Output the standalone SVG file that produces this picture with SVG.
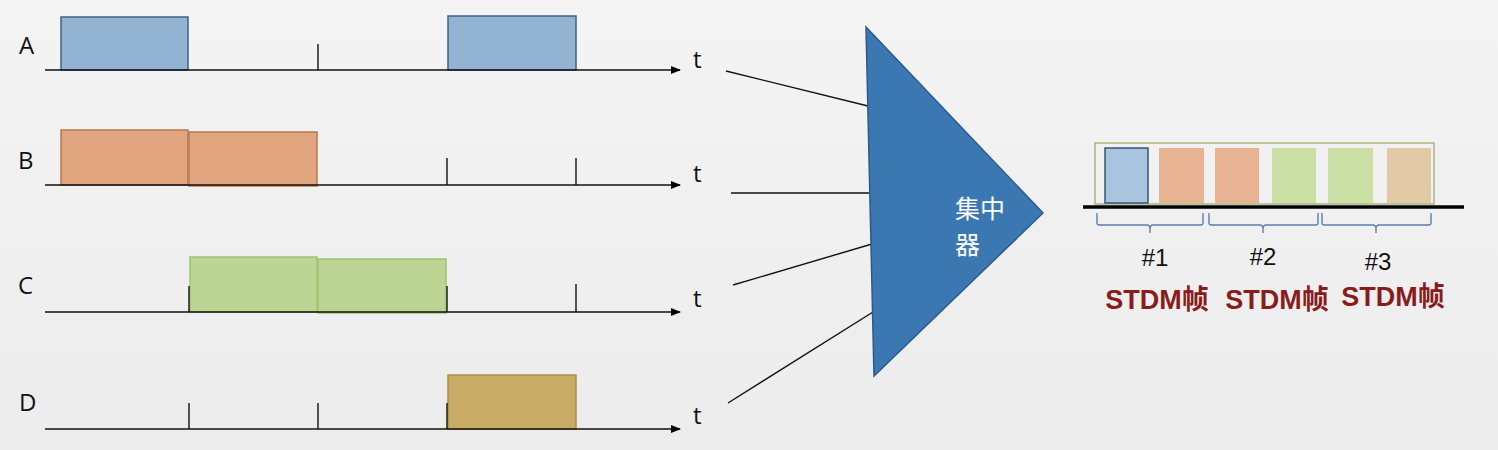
<svg xmlns="http://www.w3.org/2000/svg" width="1498" height="450" viewBox="0 0 1498 450">
<defs>
<linearGradient id="bg" x1="0" y1="0" x2="0" y2="1">
<stop offset="0" stop-color="#f4f4f4"/><stop offset="1" stop-color="#ececec"/>
</linearGradient>
<marker id="arr" markerWidth="10" markerHeight="10" refX="9" refY="5" orient="auto" markerUnits="userSpaceOnUse">
<path d="M0,1 L10,5 L0,9 Z" fill="#000"/>
</marker>
<style>
.axis{stroke:#111;stroke-width:1.6;fill:none}
.tick{stroke:#111;stroke-width:1.4}
.lbl{font-family:"Open Sans","Liberation Sans",sans-serif;font-size:24px;fill:#111}
.A{fill:#93b3d2;stroke:#3f6283;stroke-width:1.5}
.B{fill:#e0a47f;stroke:#b5784f;stroke-width:1.5}
.C{fill:#bcd595;stroke:#9fc36c;stroke-width:1.5}
.D{fill:#c9ad67;stroke:#ad8c49;stroke-width:1.5}
.conn{stroke:#111;stroke-width:1.4}
.brace{stroke:#5a80ad;stroke-width:1.4;fill:none}
.num{font-family:"Liberation Sans",Arial,sans-serif;font-size:24px;fill:#111;text-anchor:middle}
.frm{font-family:"Liberation Sans","Noto Sans CJK SC",sans-serif;font-size:27px;font-weight:bold;fill:#8a1b1b;text-anchor:middle}
</style>
</defs>
<rect width="1498" height="450" fill="url(#bg)"/>

<g id="rowA">
<text class="lbl" x="19" y="54">A</text>
<rect class="A" x="61" y="17" width="127" height="53"/>
<rect class="A" x="448" y="16" width="128" height="54"/>
<line class="tick" x1="318" y1="44" x2="318" y2="70"/>
<line class="axis" x1="45" y1="70" x2="680" y2="70" marker-end="url(#arr)"/>
<text class="lbl" x="693" y="68">t</text>
</g>

<g id="rowB">
<text class="lbl" x="18" y="169">B</text>
<rect class="B" x="61" y="130" width="127" height="55"/>
<rect class="B" x="189" y="132" width="128" height="54"/>
<line class="tick" x1="447" y1="158" x2="447" y2="185"/>
<line class="tick" x1="576" y1="158" x2="576" y2="185"/>
<line class="axis" x1="45" y1="185" x2="680" y2="185" marker-end="url(#arr)"/>
<text class="lbl" x="693" y="182">t</text>
</g>

<g id="rowC">
<text class="lbl" x="18" y="294">C</text>
<rect class="C" x="190" y="257" width="127" height="55"/>
<rect class="C" x="318" y="259" width="128" height="54"/>
<line class="tick" x1="189" y1="286" x2="189" y2="312"/>
<line class="tick" x1="447" y1="286" x2="447" y2="312"/>
<line class="tick" x1="576" y1="284" x2="576" y2="312"/>
<line class="axis" x1="45" y1="312" x2="680" y2="312" marker-end="url(#arr)"/>
<text class="lbl" x="693" y="307">t</text>
</g>

<g id="rowD">
<text class="lbl" x="19" y="411">D</text>
<rect class="D" x="448" y="375" width="128" height="54"/>
<line class="tick" x1="189" y1="403" x2="189" y2="429"/>
<line class="tick" x1="318" y1="403" x2="318" y2="429"/>
<line class="tick" x1="447" y1="403" x2="447" y2="429"/>
<line class="axis" x1="45" y1="429" x2="680" y2="429" marker-end="url(#arr)"/>
<text class="lbl" x="693" y="424">t</text>
</g>

<g id="connectors">
<line class="conn" x1="726" y1="71" x2="868" y2="106"/>
<line class="conn" x1="731" y1="193" x2="871" y2="193"/>
<line class="conn" x1="733" y1="285" x2="872" y2="244"/>
<line class="conn" x1="728" y1="403" x2="873" y2="312"/>
</g>

<g id="concentrator">
<polygon points="866,27 1043,213 874,376" fill="#3b77b1" stroke="#2a5b8c" stroke-width="1.5"/>
<text font-family="'Noto Sans CJK SC',sans-serif" font-size="25" fill="#fff"><tspan x="955" y="218">集中</tspan><tspan x="955" y="254">器</tspan></text>
</g>

<g id="stdm">
<rect x="1095" y="143" width="339" height="61" fill="none" stroke="#a8b67e" stroke-width="1.5"/>
<rect x="1105" y="148" width="43" height="55" fill="#a9c4df" stroke="#33557a" stroke-width="1.5"/>
<rect x="1159" y="148" width="45" height="55" fill="#e8b393"/>
<rect x="1215" y="148" width="44" height="55" fill="#e8b393"/>
<rect x="1272" y="148" width="44" height="55" fill="#cce0a6"/>
<rect x="1328" y="148" width="45" height="55" fill="#cce0a6"/>
<rect x="1387" y="148" width="44" height="55" fill="#e3caa6"/>
<line x1="1083" y1="207" x2="1464" y2="207" stroke="#000" stroke-width="3.5"/>
</g>

<g id="braces">
<path class="brace" d="M1097,213 V223 Q1097,225 1100,225 H1147 Q1150,225 1150,229 V233 M1150,229 Q1150,225 1153,225 H1200 Q1203,225 1203,223 V213"/>
<path class="brace" d="M1209,213 V223 Q1209,225 1212,225 H1260 Q1263,225 1263,229 V233 M1263,229 Q1263,225 1266,225 H1315 Q1318,225 1318,223 V213"/>
<path class="brace" d="M1322,213 V223 Q1322,225 1325,225 H1373 Q1376,225 1376,229 V233 M1376,229 Q1376,225 1379,225 H1428 Q1431,225 1431,223 V213"/>
</g>

<g id="labels">
<text class="num" x="1155" y="266">#1</text>
<text class="num" x="1263" y="265">#2</text>
<text class="num" x="1378" y="270">#3</text>
<text class="frm" x="1157" y="309">STDM帧</text>
<text class="frm" x="1277" y="309">STDM帧</text>
<text class="frm" x="1393" y="306">STDM帧</text>
</g>
</svg>
